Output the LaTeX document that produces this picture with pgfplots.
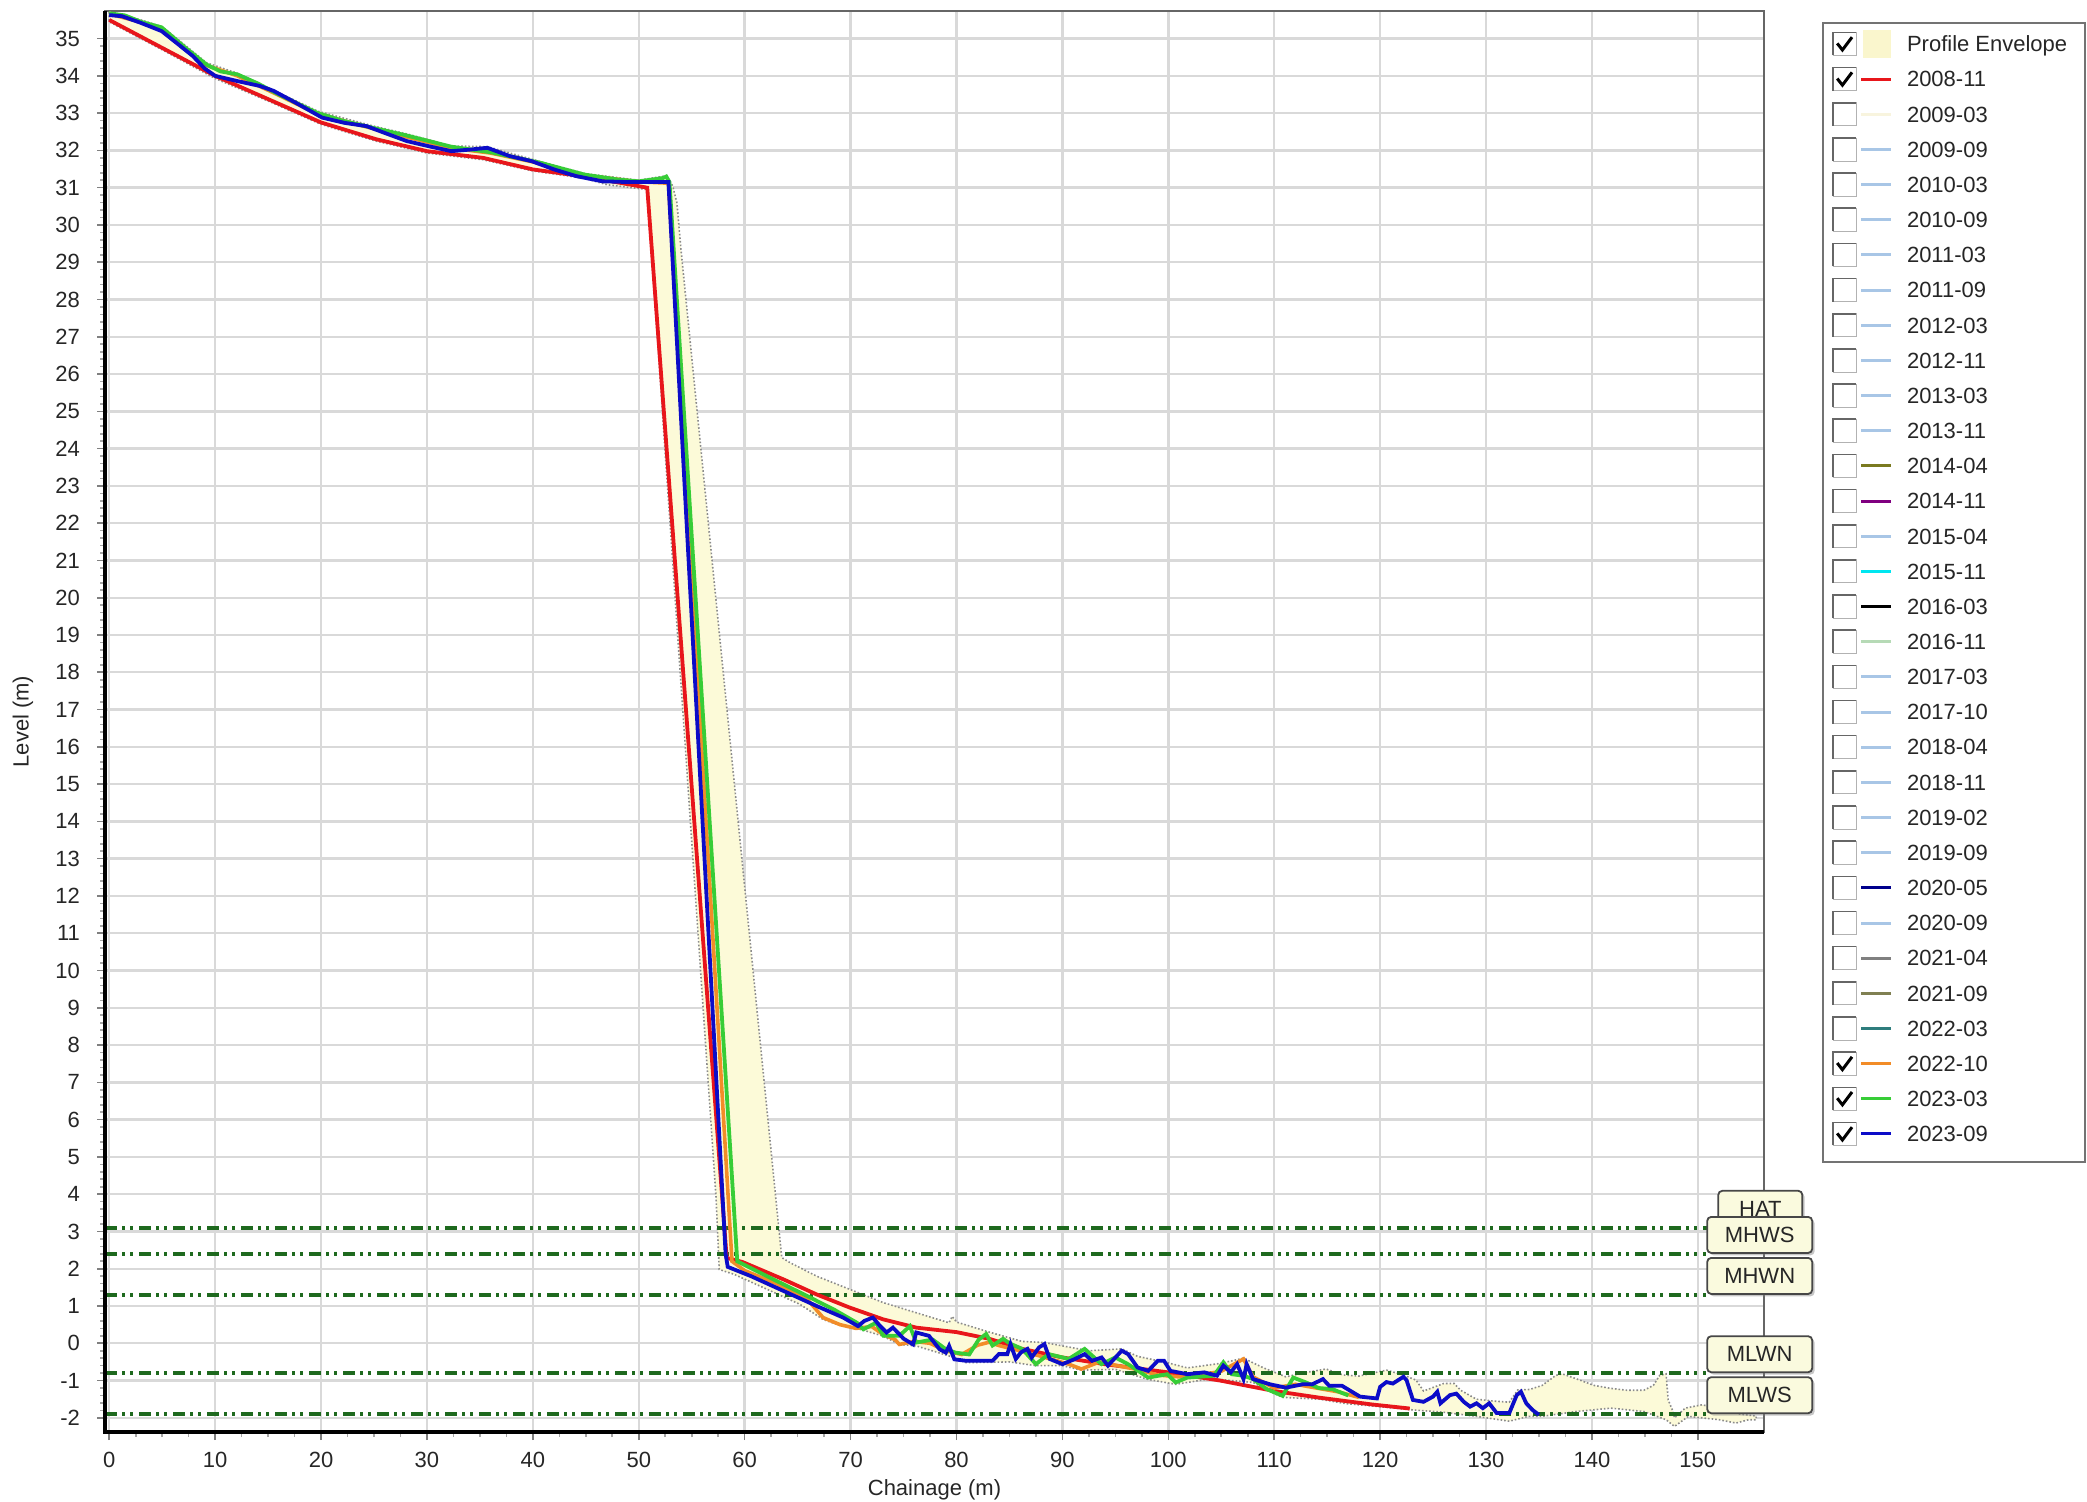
\documentclass[border=0pt]{standalone}
\usepackage{fontspec}
\setmainfont{Liberation Sans}
\usepackage{pgfplots}
\pgfplotsset{compat=1.18}
\usetikzlibrary{shadows}

\definecolor{envfill}{RGB}{252,250,216}
\definecolor{envswatch}{RGB}{250,246,205}
\definecolor{cred}{RGB}{232,22,27}
\definecolor{corange}{RGB}{242,140,40}
\definecolor{cgreen}{RGB}{55,205,55}
\definecolor{cblue}{RGB}{12,12,200}
\definecolor{tidal}{RGB}{30,105,30}
\definecolor{lblue}{RGB}{168,198,230}
\definecolor{cpale}{RGB}{248,244,222}
\definecolor{colive}{RGB}{122,122,32}
\definecolor{cpurple}{RGB}{128,0,128}
\definecolor{ccyan}{RGB}{0,230,240}
\definecolor{cpgreen}{RGB}{182,218,182}
\definecolor{cnavy}{RGB}{0,0,140}
\definecolor{cgray}{RGB}{128,128,128}
\definecolor{colive2}{RGB}{128,128,82}
\definecolor{cteal}{RGB}{46,125,125}
\definecolor{boxfill}{RGB}{250,250,222}

\newcommand{\tfont}{\fontsize{11}{13}\selectfont}

\tikzset{
  tbox/.style={draw=black!72, line width=0.9pt, fill=boxfill, rounded corners=2pt,
    minimum height=18pt, inner sep=0pt, font=\tfont, text=black!85,
    drop shadow={shadow xshift=1.2pt, shadow yshift=-1.2pt, opacity=0.45}},
  tline/.style={tidal, line width=2pt,
    dash pattern=on 6pt off 2.5pt on 1.5pt off 2.5pt on 1.5pt off 3pt}
}

\begin{document}
\begin{tikzpicture}
\useasboundingbox (0pt,0pt) rectangle (1043.5pt,750.5pt);
\begin{axis}[
  at={(52.5pt,34.5pt)}, anchor=south west,
  scale only axis, width=829.5pt, height=710.5pt,
  xmin=-0.4, xmax=156.25, ymin=-2.38, ymax=35.74,
  xtick={0,10,...,150}, ytick={-2,-1,...,35},
  minor x tick num=3, minor y tick num=4,
  tick pos=left, tick align=outside,
  major tick length=4pt, minor tick length=2.5pt,
  every major tick/.style={black!50, line width=0.8pt},
  every minor tick/.style={black!35, line width=0.8pt},
  grid=major, major grid style={black!15, line width=1.2pt},
  axis line style={black!60, line width=1pt},
  /pgf/number format/assume math mode=true,
  xticklabel style={font=\tfont, text=black!85},
  yticklabel style={font=\tfont, text=black!85},
  xticklabel shift=2.3pt, yticklabel shift=5pt,
  xlabel={Chainage (m)}, ylabel={Level (m)},
  xlabel style={font=\tfont, text=black!85, at={(axis description cs:0.5,-0.0405)}, anchor=center},
  ylabel style={font=\tfont, text=black!85, at={(axis description cs:-0.0494,0.5)}, anchor=center},
]
% Profile envelope
\addplot[fill=envfill, draw=black!45, densely dotted, line width=0.8pt] coordinates {
(0,35.72) (3,35.5) (5,35.32) (9.2,34.35) (12,34.08) (16,33.55) (19.7,33.05) (25,32.65)
(28,32.45) (32.3,32.12) (35.7,32.1) (40.7,31.7) (44.9,31.38) (50,31.2) (52.6,31.32)
(53.2,31.05) (53.6,30.6) (54.0,29.3) (63.5,2.3) (64.3,2.16) (66.8,1.8) (69.9,1.45)
(73.1,1.09) (76.2,0.82) (79.3,0.55) (79.6,0.72) (80,0.57) (83.1,0.3) (86.2,0.05)
(88.3,0.02) (92.5,-0.2) (95.6,-0.15) (97.1,-0.35) (99.9,-0.52) (101.8,-0.66) (104.9,-0.54)
(107.1,-0.4) (109,-0.66) (111.1,-0.9) (113,-0.78) (114.9,-0.69) (116.5,-0.85) (118,-0.88)
(120.6,-0.72) (122.2,-0.85) (123.4,-0.99) (124.1,-1.28) (126,-1.08) (127,-1.08) (127.6,-1.26)
(129.1,-1.5) (130.7,-1.55) (132.2,-1.58) (133,-1.25) (134.1,-1.24) (135.3,-1.13) (136.6,-0.86)
(137.2,-0.82) (138.5,-0.95) (140.2,-1.13) (141.8,-1.21) (143.3,-1.26) (144.9,-1.26)
(145.8,-1.13) (146.4,-0.86) (147,-0.82) (147.2,-1.52) (147.6,-1.79) (147.8,-2.0)
(148.8,-1.74) (150.4,-1.65) (152,-1.75) (154,-1.9) (155.5,-1.95)
(155.5,-2.05) (154.8,-2.05) (153.6,-2.14) (152,-2.05) (149.1,-1.96) (147.8,-2.23)
(147,-2.05) (144.9,-1.83) (141.8,-1.74) (138.5,-1.83) (135.3,-1.96) (134,-1.96)
(132.2,-2.09) (129.1,-1.96) (126,-1.85) (122.8,-1.78) (119.2,-1.68) (116.8,-1.62)
(114.3,-1.5) (110.8,-1.45) (110,-1.35) (108,-1.05) (104,-0.95) (100.7,-1.1) (98.1,-0.97)
(95,-0.7) (91.8,-0.72) (90,-0.6) (87.5,-0.6) (85,-0.5) (80.9,-0.52) (79.3,-0.34)
(76.2,-0.07) (74.6,-0.03) (73,0.2) (70.6,0.4) (68.7,0.51) (67.4,0.64) (65.25,1.04)
(62.1,1.45) (59,1.85) (57.6,1.98) (57.3,3.9) (50.8,30.95) (47,31.08) (44.9,31.25)
(40,31.45) (35.3,31.75) (30,31.93) (25.2,32.25) (20,32.7) (15.05,33.32) (10,33.93)
(5,34.7) (0,35.45)
} --cycle;
% tidal levels
\addplot[tline] coordinates {(-0.4,3.1) (151.5,3.1)};
\addplot[tline] coordinates {(-0.4,2.4) (150.8,2.4)};
\addplot[tline] coordinates {(-0.4,1.3) (150.8,1.3)};
\addplot[tline] coordinates {(-0.4,-0.8) (150.8,-0.8)};
\addplot[tline] coordinates {(-0.4,-1.9) (150.8,-1.9)};
% 2008-11
\addplot[cred, line width=1.9pt] coordinates {
(0,35.5) (5,34.75) (10,34.0) (15.05,33.37) (20,32.75) (25.2,32.3) (30,31.98) (35.3,31.8)
(40,31.49) (44.9,31.3) (50.8,31.0) (58.3,2.29) (59.8,2.18) (63.7,1.71) (66.8,1.31)
(69.9,0.96) (73.1,0.64) (76.2,0.42) (80,0.3) (83.1,0.12) (86.2,-0.15) (90,-0.38)
(94,-0.56) (100,-0.78) (104.9,-1.0) (110,-1.28) (114.3,-1.46) (119.2,-1.64) (122.8,-1.75)
};
% 2022-10
\addplot[corange, line width=1.8pt] coordinates {
(0,35.66) (3,35.44) (4.95,35.27) (7,34.78) (9.2,34.28) (12.1,34.0) (16,33.48) (19.7,32.97)
(25,32.58) (28.1,32.36) (32.3,32.06) (36,31.93) (40.7,31.65) (44.9,31.33) (50,31.16)
(52.8,31.12) (58.8,2.2) (60,1.95) (63,1.6) (66,1.15) (67.4,0.69) (69,0.5) (70.5,0.4)
(72,0.45) (73,0.25) (74.2,0.1) (74.6,-0.03) (76,0.05) (77.5,0.0) (79,-0.2) (80.5,-0.3)
(82,-0.05) (83.1,0.03) (84,-0.06) (86,-0.2) (88,-0.35) (90.6,-0.56) (91.8,-0.69)
(93.5,-0.5) (95.2,-0.6) (97,-0.7) (99,-0.85) (101,-0.9) (103,-0.85) (105,-0.75)
(107.1,-0.42) (108,-0.9) (110,-1.2) (112,-1.1) (114,-1.2) (116,-1.3) (118,-1.45)
};
% 2023-03
\addplot[cgreen, line width=1.9pt] coordinates {
(0,35.68) (1.5,35.62) (3,35.45) (4.95,35.3) (7,34.8) (9.2,34.3) (10.5,34.12) (12.1,34.04)
(14,33.8) (16,33.5) (19.7,33.0) (22,32.8) (25,32.6) (28.1,32.4) (32.3,32.1) (36,31.95)
(40.7,31.67) (44.9,31.35) (48,31.22) (50,31.17) (52.3,31.26) (52.6,31.3) (52.9,31.15)
(59.3,2.2) (62.1,1.8) (65.25,1.36) (68.4,0.91) (70.6,0.55) (71.2,0.375) (72.4,0.55)
(73.1,0.2) (74.6,0.2) (75.6,0.46) (76.2,0.02) (77.75,0.1) (79,-0.16) (79.9,-0.25)
(81.2,-0.3) (82.1,0.1) (82.8,0.25) (83.4,-0.06) (84.4,0.12) (85,0.0) (86.2,-0.15)
(87.5,-0.56) (88.7,-0.29) (90.6,-0.42) (92.1,-0.15) (93.7,-0.56) (95,-0.38) (96.2,-0.56)
(98.1,-0.92) (99.9,-0.83) (100.7,-1.05) (101.8,-0.92) (104.3,-0.87) (105.2,-0.51)
(106,-0.83) (107.1,-0.87) (108,-0.96) (109.3,-1.23) (110.8,-1.41) (111.8,-0.92)
(113,-1.05) (114.2,-1.2) (115.5,-1.23) (117,-1.4)
};
% 2023-09
\addplot[cblue, line width=1.9pt] coordinates {
(0,35.63) (1.2,35.6) (3,35.42) (4.95,35.2) (6.5,34.85) (7.9,34.53) (9,34.2) (10,34.0)
(12.1,33.86) (14.2,33.73) (15.5,33.6) (17.6,33.28) (20.1,32.88) (22.2,32.74) (24.3,32.65)
(26,32.47) (28.1,32.25) (30.2,32.11) (32.3,31.98) (34,32.02) (35.7,32.07) (37.8,31.85)
(39.9,31.71) (42,31.49) (44.1,31.31) (46.6,31.17) (49.2,31.15) (52.8,31.15)
(58.2,2.4) (58.4,2.05) (60.6,1.8) (63.7,1.4) (66.8,1.0) (69.3,0.69) (70.7,0.46) (71.3,0.6)
(72.1,0.69) (72.8,0.46) (73.4,0.29) (74,0.42) (75,0.125) (75.9,-0.03) (76.2,0.29)
(77.4,0.2) (78.4,-0.16) (79,-0.25) (79.3,-0.07) (79.8,-0.43) (80.9,-0.47) (83.4,-0.47)
(84,-0.29) (84.8,-0.29) (85.1,-0.02) (85.6,-0.42) (86.1,-0.24) (86.7,-0.15) (87.1,-0.38)
(87.8,-0.11) (88.3,-0.02) (88.8,-0.42) (90,-0.56) (91.2,-0.42) (92.1,-0.29) (92.8,-0.47)
(93.7,-0.38) (94.3,-0.6) (95.6,-0.2) (96.2,-0.29) (97.1,-0.65) (98.1,-0.74) (99,-0.47)
(99.6,-0.47) (100.2,-0.74) (101.8,-0.83) (103.4,-0.78) (104.6,-0.87) (105.2,-0.6)
(105.9,-0.78) (106.5,-0.56) (107.1,-0.96) (107.4,-0.56) (108,-0.96) (109.6,-1.1)
(111.1,-1.19) (112.7,-1.1) (113.6,-1.1) (114.6,-0.96) (115.2,-1.14) (116.4,-1.14)
(118.1,-1.43) (119.7,-1.48) (120,-1.17) (120.6,-1.04) (121.2,-1.08) (122.2,-0.9)
(122.5,-0.99) (123.1,-1.52) (124.1,-1.57) (125,-1.43) (125.4,-1.3) (125.7,-1.61)
(126.6,-1.39) (127.2,-1.35) (127.9,-1.57) (128.5,-1.7) (129.1,-1.61) (129.7,-1.74)
(130.3,-1.61) (131,-1.87) (132.2,-1.87) (132.9,-1.39) (133.3,-1.3) (133.8,-1.61)
(134.4,-1.79) (135,-1.92)
};
\coordinate (hat) at (axis cs:151.85,3.1);
\coordinate (mhws) at (axis cs:150.8,2.4);
\coordinate (mhwn) at (axis cs:150.8,1.3);
\coordinate (mlwn) at (axis cs:150.8,-0.8);
\coordinate (mlws) at (axis cs:150.8,-1.9);
\end{axis}
% left and bottom axis lines in black
\draw[black, line width=1.6pt] (52.5pt,745pt) -- (52.5pt,34.5pt) -- (882pt,34.5pt);
% tidal labels
\node[tbox, minimum width=42pt, anchor=south west] at (hat) {HAT};
\node[tbox, minimum width=52.5pt, anchor=south west] at (mhws) {MHWS};
\node[tbox, minimum width=52.5pt, anchor=south west] at (mhwn) {MHWN};
\node[tbox, minimum width=52.5pt, anchor=south west] at (mlwn) {MLWN};
\node[tbox, minimum width=52.5pt, anchor=south west] at (mlws) {MLWS};
% legend
\draw[black!55, line width=1pt, fill=white] (911.5pt,169.5pt) rectangle (1042.5pt,739.2pt);
\begin{scope}[shift={(0pt,728.5pt)}]
  \draw[black!30, fill=white] (916.5pt,-5.75pt) rectangle (928pt,5.75pt);
  \draw[black!60, line width=0.8pt] (916.5pt,-5.75pt) -- (916.5pt,5.75pt) -- (928pt,5.75pt);
  \draw[line width=1.5pt] (918.6pt,0.3pt) -- (921.2pt,-3pt) -- (926pt,3.4pt);
  \fill[envswatch] (931.5pt,-6.8pt) rectangle (945.5pt,6.8pt);
  \node[anchor=base west, inner sep=0pt, font=\tfont, text=black!85] at (953.3pt,-3.9pt) {Profile Envelope};
\end{scope}
\foreach \lab/\col/\chk [count=\i from 1] in {
  2008-11/cred/1, 2009-03/cpale/0, 2009-09/lblue/0, 2010-03/lblue/0, 2010-09/lblue/0,
  2011-03/lblue/0, 2011-09/lblue/0, 2012-03/lblue/0, 2012-11/lblue/0, 2013-03/lblue/0,
  2013-11/lblue/0, 2014-04/colive/0, 2014-11/cpurple/0, 2015-04/lblue/0, 2015-11/ccyan/0,
  2016-03/black/0, 2016-11/cpgreen/0, 2017-03/lblue/0, 2017-10/lblue/0, 2018-04/lblue/0,
  2018-11/lblue/0, 2019-02/lblue/0, 2019-09/lblue/0, 2020-05/cnavy/0, 2020-09/lblue/0,
  2021-04/cgray/0, 2021-09/colive2/0, 2022-03/cteal/0, 2022-10/corange/1, 2023-03/cgreen/1,
  2023-09/cblue/1} {
  \pgfmathsetmacro{\yy}{728.5-17.58*\i}
  \begin{scope}[shift={(0pt,\yy pt)}]
    \draw[black!30, fill=white] (916.5pt,-5.75pt) rectangle (928pt,5.75pt);
    \draw[black!60, line width=0.8pt] (916.5pt,-5.75pt) -- (916.5pt,5.75pt) -- (928pt,5.75pt);
    \ifnum\chk=1 \draw[line width=1.5pt] (918.6pt,0.3pt) -- (921.2pt,-3pt) -- (926pt,3.4pt);\fi
    \draw[\col, line width=1.5pt] (930.5pt,0pt) -- (945.5pt,0pt);
    \node[anchor=base west, inner sep=0pt, font=\tfont, text=black!85] at (953.3pt,-3.9pt) {\lab};
  \end{scope}
}
\end{tikzpicture}
\end{document}
